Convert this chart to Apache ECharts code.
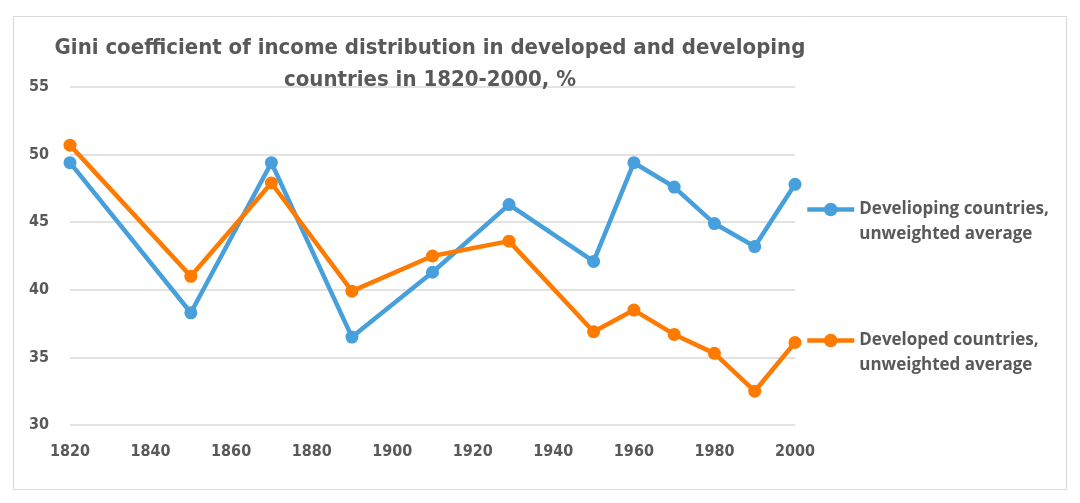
<!DOCTYPE html>
<html>
<head>
<meta charset="utf-8">
<script src="https://cdn.jsdelivr.net/npm/echarts@6/dist/echarts.min.js"></script>
<style>
  html, body { margin: 0; padding: 0; background: #fff; }
  #chart { width: 1080px; height: 503px; }
</style>
</head>
<body>
<div id="chart"></div>
<script>
// years of each observation
var years = [1820, 1850, 1870, 1890, 1910, 1929, 1950, 1960, 1970, 1980, 1990, 2000];
// Gini, %
var developing = [49.4, 38.3, 49.4, 36.5, 41.3, 46.3, 42.1, 49.4, 47.6, 44.9, 43.2, 47.8];
var developed = [50.7, 41.0, 47.9, 39.9, 42.5, 43.6, 36.9, 38.5, 36.7, 35.3, 32.5, 36.1];
var seriesNames = ['Develioping countries,\nunweighted average', 'Developed countries,\nunweighted average'];

function pairs(ys) {
    return years.map(function (y, i) { return [y, ys[i]]; });
}

var myChart = echarts.init(document.getElementById('chart'));
var textColor = '#595959';
var narrow = "'DejaVu Sans Condensed', 'Open Sans', sans-serif";

var option = {
    backgroundColor: '#fff',
    animation: false,
    color: ['#479FDB', '#FF7A00'],
    title: {
        text: 'Gini coefficient of income distribution in developed and developing\ncountries in 1820-2000, %',
        left: 425,
        textAlign: 'center',
        top: 27,
        textStyle: {
            fontFamily: narrow,
            fontSize: 22,
            fontWeight: 'bold',
            color: textColor,
            lineHeight: 32
        }
    },
    graphic: [{
        type: 'rect',
        shape: { x: 13.5, y: 16.5, width: 1053, height: 473 },
        style: { fill: 'none', stroke: '#D9D9D9', lineWidth: 1 },
        z: -1
    }],
    legend: {
        orient: 'vertical',
        left: 805,
        top: 172,
        padding: 0,
        itemGap: 56,
        itemWidth: 47,
        itemHeight: 17,
        lineStyle: { width: 4.5 },
        formatter: function (name) { return '\n' + name; },
        textStyle: {
            fontFamily: 'Open Sans',
            fontSize: 17,
            fontWeight: 'bold',
            color: textColor,
            lineHeight: 25
        }
    },
    grid: {
        left: 70,
        right: 285,
        top: 87,
        bottom: 78
    },
    xAxis: {
        type: 'value',
        min: 1820,
        max: 2000,
        interval: 20,
        axisLine: { show: false },
        axisTick: { show: false },
        splitLine: { show: false },
        axisLabel: {
            margin: 19,
            formatter: function (v) { return String(v); },
            fontFamily: narrow,
            fontSize: 16,
            fontWeight: 'bold',
            color: textColor
        }
    },
    yAxis: {
        type: 'value',
        min: 30,
        max: 55,
        interval: 5,
        axisLine: { show: false },
        axisTick: { show: false },
        splitLine: { lineStyle: { color: '#D9D9D9', width: 1.5 } },
        axisLabel: {
            margin: 21,
            fontFamily: narrow,
            fontSize: 16,
            fontWeight: 'bold',
            color: textColor
        }
    },
    series: [{
        name: seriesNames[0],
        type: 'line',
        data: pairs(developing),
        symbol: 'circle',
        symbolSize: 13,
        lineStyle: { width: 4.5 }
    }, {
        name: seriesNames[1],
        type: 'line',
        data: pairs(developed),
        symbol: 'circle',
        symbolSize: 13,
        lineStyle: { width: 4.5 }
    }]
};

myChart.setOption(option);
</script>
</body>
</html>
